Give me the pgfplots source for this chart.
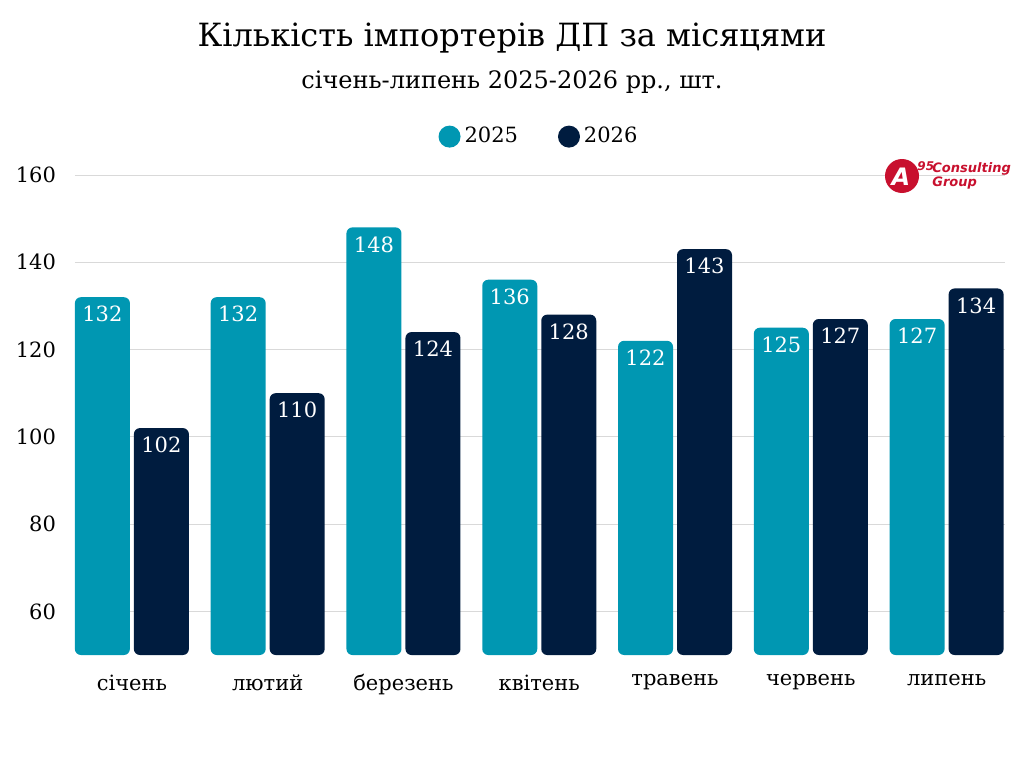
\documentclass[border=0pt]{standalone}
\usepackage{pgfplots}
\pgfplotsset{compat=1.18}
\usepackage{fontspec}
\setmainfont{DejaVu Serif}
\newfontfamily\logofont{DejaVu Sans}
\definecolor{cA}{HTML}{0097B2}
\definecolor{cB}{HTML}{001C3F}
\definecolor{logored}{HTML}{C8102E}
\begin{document}
\begin{tikzpicture}
\path (0pt,0pt) rectangle (512pt,384pt);
\node[font=\fontsize{16}{18}\selectfont] at (256pt,365pt) {Кількість імпортерів ДП за місяцями};
\node[font=\fontsize{12}{14}\selectfont] at (256pt,343pt) {січень-липень 2025-2026 рр., шт.};
\begin{axis}[at={(37.5pt,56.5pt)}, anchor=south west, scale only axis,
 width=465pt, height=240pt, ymin=50, ymax=160, xmin=-0.419, xmax=6.43,
 axis line style={draw=none}, tick style={draw=none},
 ymajorgrids, grid style={gray!30},
 ytick={60,80,...,160}, xtick={0,...,6},
 xticklabels={січень,лютий,березень,квітень,травень,червень,липень},
 tick label style={font=\fontsize{10.5}{12}\selectfont},
 /pgf/number format/assume math mode=true,
 yticklabel style={xshift=-6pt},
 xticklabel style={yshift=-2pt},
 ybar, bar width=27.5pt,
 nodes near coords, every node near coord/.append style={anchor=north, text=white, font=\fontsize{10.5}{12}\selectfont, yshift=-1pt},
 legend style={at={(0.5,1.08)}, anchor=center, draw=none, legend columns=2, font=\fontsize{10.5}{12}\selectfont, /tikz/every even column/.append style={column sep=18pt}},
 legend image code/.code={\fill (0.1cm,0cm) circle (5.5pt);},
]
\addplot[fill=cA, draw=none, bar shift=-14.75pt, rounded corners=3pt] coordinates {(0,132)(1,132)(2,148)(3,136)(4,122)(5,125)(6,127)};
\addplot[fill=cB, draw=none, bar shift=14.75pt, rounded corners=3pt] coordinates {(0,102)(1,110)(2,124)(3,128)(4,143)(5,127)(6,134)};
\legend{2025,2026}
\end{axis}
\fill[logored] (451pt,296pt) circle (8.5pt);
\node[text=white, font=\logofont\bfseries\itshape\fontsize{12}{12}\selectfont] at (450.5pt,295.5pt) {A};
\node[text=logored, font=\logofont\bfseries\itshape\fontsize{6}{6}\selectfont, anchor=west, inner sep=0pt] at (458.5pt,301pt) {95};
\node[text=logored, font=\logofont\bfseries\itshape\fontsize{6.5}{7}\selectfont, align=left, anchor=west, inner sep=0pt] at (466pt,296pt) {Consulting\\Group};
\end{tikzpicture}
\end{document}
